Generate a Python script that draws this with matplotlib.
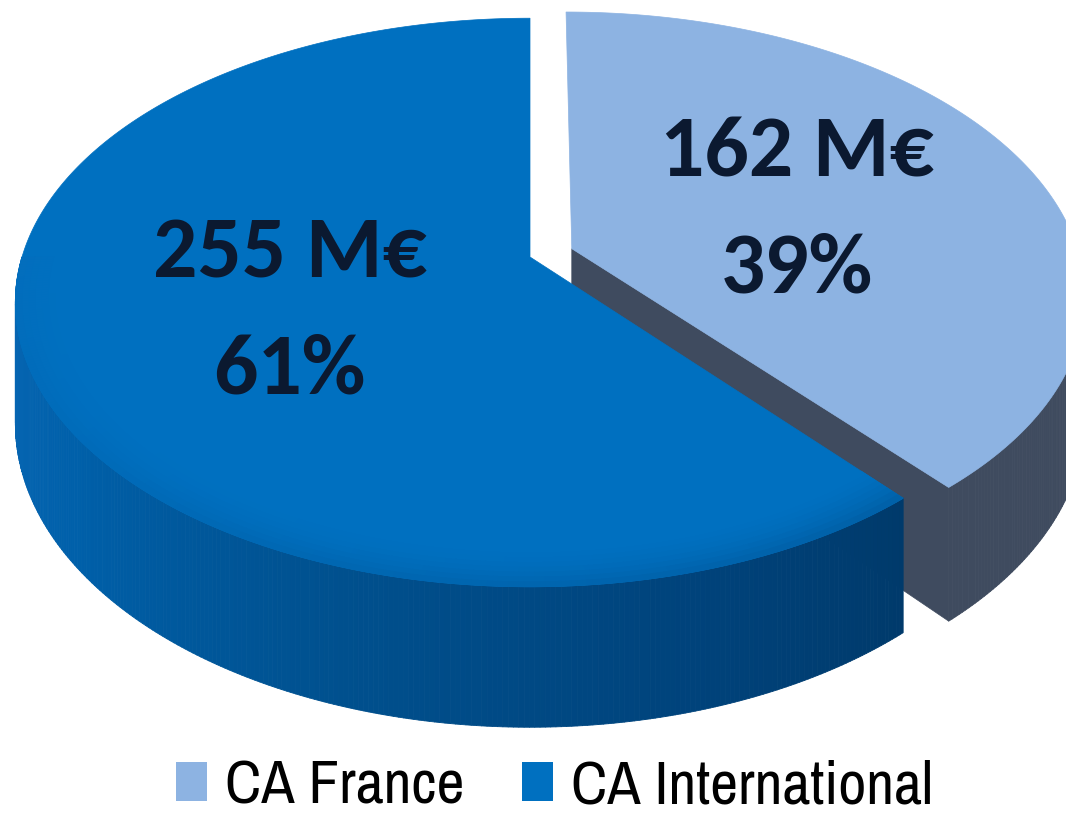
import numpy as np
import matplotlib
matplotlib.use("Agg")
import matplotlib.pyplot as plt
from matplotlib.collections import PolyCollection
from matplotlib.patches import Polygon, Patch

# ---- data ----
categories = ["CA France", "CA International"]
values = [162, 255]
unit = "M€"

# ---- style ----
top_colors = ["#8db3e2", "#0070c0"]
wall_colors = [["#3f4b5f", "#3f4b5f"],
               ["#0a68b6", "#0060aa", "#00508e", "#00427a", "#003562", "#002f58"]]
explode = [0.088, 0.0]
text_color = "#0b1930"
LABEL_FONT = ["Carlito", "DejaVu Sans"]
LEGEND_FONT = ["Archivo Narrow", "DejaVu Sans"]

# projection of the tilted disc (pixel space)
CX, CY, RX, RY, K, H = 530.0, 257.0, 508.0, 277.0, 0.16, 118.0


def proj(u, v, z=0.0):
    s = 1.0 / (1.0 + K * v)
    return CX + RX * u * s, CY - RY * v * s + H * z * s


def lerp_color(cols, t):
    rgb = np.array([matplotlib.colors.to_rgb(c) for c in cols])
    t = np.clip(t, 0, 1) * (len(cols) - 1)
    i = min(int(t), len(cols) - 2)
    f = t - i
    return tuple(rgb[i] * (1 - f) + rgb[i + 1] * f)


def mix(c1, c2, f):
    a = np.array(matplotlib.colors.to_rgb(c1))
    b = np.array(matplotlib.colors.to_rgb(c2))
    return tuple(a * (1 - f) + b * f)


fig = plt.figure(figsize=(10.66, 8.16), dpi=100)
ax = fig.add_axes([0, 0, 1, 1])
ax.set_xlim(0, 1066)
ax.set_ylim(816, 0)
ax.axis("off")

total = float(sum(values))
cum = np.concatenate([[0], np.cumsum(values)]) / total
slices = []
for i in range(len(values)):
    hi = 90 - cum[i] * 360
    lo = 90 - cum[i + 1] * 360
    slices.append((lo, hi))

bevel_r = np.linspace(0.90, 1.0, 9)

z = 1
for i, (lo, hi) in enumerate(slices):
    mid = np.radians((lo + hi) / 2)
    ox, oy = explode[i] * np.cos(mid), explode[i] * np.sin(mid)

    shift = 0
    while hi - shift > 180:
        shift += 360
    while hi - shift <= -180:
        shift -= 360
    a0, a1 = max(lo - shift, -180), min(hi - shift, 0)
    polys, cols, bevel, bcols = [], [], [], []
    if a1 > a0:
        angs = np.linspace(a0, a1, max(int((a1 - a0) * 2), 2))
        for j in range(len(angs) - 1):
            t1, t2 = np.radians(angs[j]), np.radians(angs[j + 1])
            c1, s1, c2, s2 = np.cos(t1), np.sin(t1), np.cos(t2), np.sin(t2)
            p1 = proj(c1 + ox, s1 + oy)
            p2 = proj(c2 + ox, s2 + oy)
            p3 = proj(c2 + ox, s2 + oy, 1)
            p4 = proj(c1 + ox, s1 + oy, 1)
            polys.append([p1, p2, p3, p4])
            tt = ((angs[j] + angs[j + 1]) / 2 + 180) / 180.0
            wc = lerp_color(wall_colors[i], tt)
            cols.append(wc)
            # soft bevel on the front rim of the top face
            for k in range(len(bevel_r) - 1):
                ra, rb = bevel_r[k], bevel_r[k + 1]
                bevel.append([proj(ra * c1 + ox, ra * s1 + oy), proj(ra * c2 + ox, ra * s2 + oy),
                              proj(rb * c2 + ox, rb * s2 + oy), proj(rb * c1 + ox, rb * s1 + oy)])
                bcols.append(mix(top_colors[i], wc, 0.28 * ((k + 1) / (len(bevel_r) - 1)) ** 2))
    for a, nrm in ((lo, lo - 90), (hi, hi + 90)):
        if np.sin(np.radians(nrm)) < -0.05:
            t = np.radians(a)
            q = [proj(ox, oy), proj(np.cos(t) + ox, np.sin(t) + oy),
                 proj(np.cos(t) + ox, np.sin(t) + oy, 1), proj(ox, oy, 1)]
            ax.add_patch(Polygon(q, closed=True, facecolor=wall_colors[i][0],
                                 edgecolor=wall_colors[i][0], lw=0.5, zorder=z))
    if polys:
        ax.add_collection(PolyCollection(polys, facecolors=cols, edgecolors=cols,
                                         linewidths=0.6, zorder=z + 0.5))
    angs = np.radians(np.linspace(lo, hi, 300))
    pts = [proj(ox, oy)] + [proj(np.cos(t) + ox, np.sin(t) + oy) for t in angs]
    ax.add_patch(Polygon(pts, closed=True, facecolor=top_colors[i],
                         edgecolor=top_colors[i], lw=0.5, zorder=z + 1))
    if bevel and i == 1:
        ax.add_collection(PolyCollection(bevel, facecolors=bcols, edgecolors=bcols,
                                         linewidths=0.6, zorder=z + 1.5))

    rl = 0.49
    lx, ly = proj(rl * np.cos(mid) + ox, rl * np.sin(mid) + oy)
    pct = round(values[i] / total * 100)
    ax.text(lx, ly - 27, f"{values[i]} {unit}", ha="center", va="baseline",
            fontsize=63, fontweight="bold", color=text_color, family=LABEL_FONT, zorder=10)
    ax.text(lx, ly + 89, f"{pct}%", ha="center", va="baseline",
            fontsize=63, fontweight="bold", color=text_color, family=LABEL_FONT, zorder=10)
    z += 3

handles = [Patch(facecolor=top_colors[i], edgecolor="none") for i in range(len(values))]
fig.legend(handles, categories, loc="lower left", ncol=2,
           bbox_to_anchor=(176 / 1066, 0.002), frameon=False,
           prop={"family": LEGEND_FONT, "size": 44},
           handlelength=0.5, handleheight=0.6, handletextpad=0.3,
           columnspacing=0.95, borderpad=0.0, borderaxespad=0.0)

fig.savefig("out.png", dpi=100, facecolor="white")
